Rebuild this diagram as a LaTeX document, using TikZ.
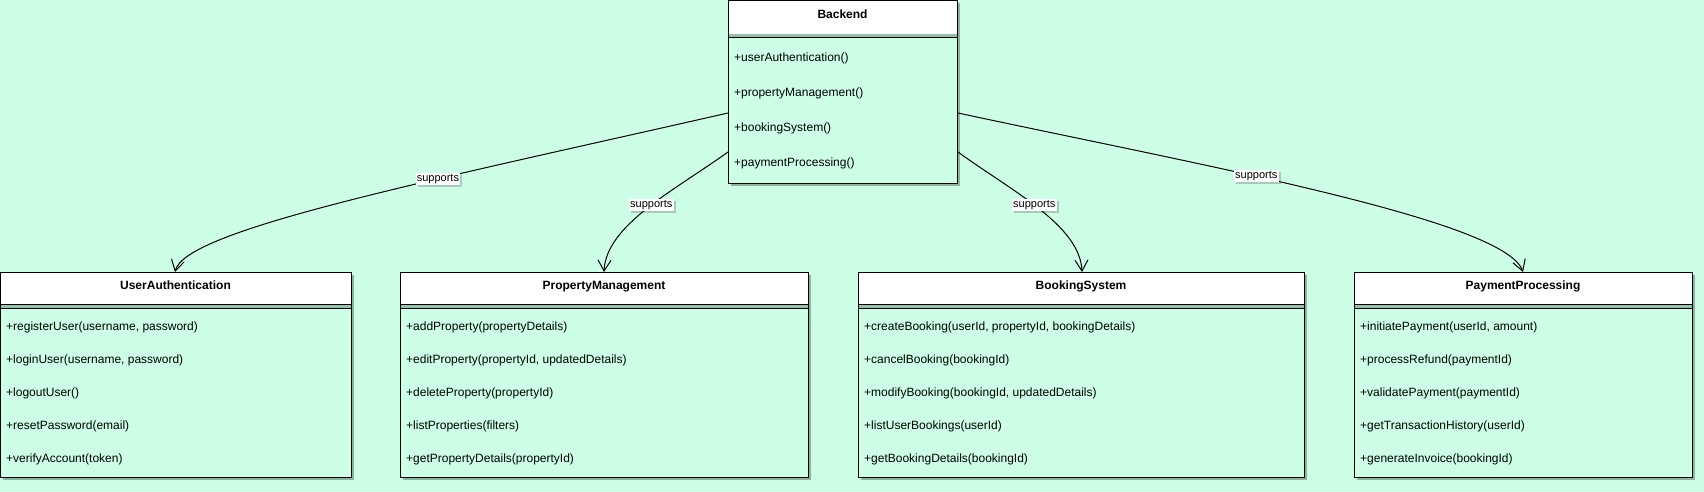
\documentclass[tikz,border=0pt]{standalone}
\usepackage{fontspec}
\setmainfont{Liberation Sans}
\usetikzlibrary{arrows.meta,shadows,calc}
\definecolor{bg}{RGB}{204,255,230}
\definecolor{gapc}{RGB}{150,192,176}
\tikzset{
  cls/.style={draw=black, line width=1pt, fill=bg, rectangle, inner sep=0pt, anchor=north west,
    drop shadow={shadow xshift=2.5pt, shadow yshift=-2.5pt, opacity=0.3, fill=black}},
  hdr/.style={draw=black, line width=1pt, fill=white, rectangle, inner sep=0pt, anchor=north west},
  ttl/.style={inner sep=0pt, anchor=base, font=\fontsize{12}{14}\selectfont\bfseries},
  item/.style={anchor=base west, inner sep=0pt, font=\fontsize{12}{14}\selectfont},
  rel/.style={line width=1pt, -{Straight Barb[length=11pt,width=13pt,line width=1pt]}},
  lbl/.style={fill=white, inner sep=1.3pt, font=\fontsize{11}{12}\selectfont,
    drop shadow={shadow xshift=2pt, shadow yshift=-2pt, opacity=0.2, fill=black}},
}
\begin{document}
\begin{tikzpicture}[x=1pt,y=-1pt]
\fill[bg] (0,0) rectangle (1704,492);
\useasboundingbox (0,0) rectangle (1704,492);

% Backend
\node[cls, minimum width=229pt, minimum height=183pt] (backend) at (728,0) {};
\node[hdr, minimum width=229pt, minimum height=34pt] (backendh) at (728,0) {};
\fill[gapc] (728.5,34.5) rectangle (956.5,38);
\draw[line width=1pt] (728,38) -- (957,38);
\node[ttl] (backendt) at (842.5,18.3) {Backend};
\foreach \t [count=\i] in {{+userAuthentication()},{+propertyManagement()},{+bookingSystem()},{+paymentProcessing()}}
  \node[item] (be\i) at (734,26.3+35*\i) {\t};

% UserAuthentication
\node[cls, minimum width=351pt, minimum height=205pt] (ua) at (0,272) {};
\node[hdr, minimum width=351pt, minimum height=32pt] (uah) at (0,272) {};
\fill[gapc] (0.5,304.5) rectangle (350.5,308);
\draw[line width=1pt] (0,308) -- (351,308);
\node[ttl] (uat) at (175.5,289.3) {UserAuthentication};
\foreach \t [count=\i] in {{+registerUser(username, password)},{+loginUser(username, password)},{+logoutUser()},{+resetPassword(email)},{+verifyAccount(token)}}
  \node[item] (ua\i) at (6,297.3+33*\i) {\t};

% PropertyManagement
\node[cls, minimum width=408pt, minimum height=205pt] (pm) at (400,272) {};
\node[hdr, minimum width=408pt, minimum height=32pt] (pmh) at (400,272) {};
\fill[gapc] (400.5,304.5) rectangle (807.5,308);
\draw[line width=1pt] (400,308) -- (808,308);
\node[ttl] (pmt) at (604,289.3) {PropertyManagement};
\foreach \t [count=\i] in {{+addProperty(propertyDetails)},{+editProperty(propertyId, updatedDetails)},{+deleteProperty(propertyId)},{+listProperties(filters)},{+getPropertyDetails(propertyId)}}
  \node[item] (pm\i) at (406,297.3+33*\i) {\t};

% BookingSystem
\node[cls, minimum width=446pt, minimum height=205pt] (bs) at (858,272) {};
\node[hdr, minimum width=446pt, minimum height=32pt] (bsh) at (858,272) {};
\fill[gapc] (858.5,304.5) rectangle (1303.5,308);
\draw[line width=1pt] (858,308) -- (1304,308);
\node[ttl] (bst) at (1081,289.3) {BookingSystem};
\foreach \t [count=\i] in {{+createBooking(userId, propertyId, bookingDetails)},{+cancelBooking(bookingId)},{+modifyBooking(bookingId, updatedDetails)},{+listUserBookings(userId)},{+getBookingDetails(bookingId)}}
  \node[item] (bs\i) at (864,297.3+33*\i) {\t};

% PaymentProcessing
\node[cls, minimum width=338pt, minimum height=205pt] (pp) at (1354,272) {};
\node[hdr, minimum width=338pt, minimum height=32pt] (pph) at (1354,272) {};
\fill[gapc] (1354.5,304.5) rectangle (1691.5,308);
\draw[line width=1pt] (1354,308) -- (1692,308);
\node[ttl] (ppt) at (1523,289.3) {PaymentProcessing};
\foreach \t [count=\i] in {{+initiatePayment(userId, amount)},{+processRefund(paymentId)},{+validatePayment(paymentId)},{+getTransactionHistory(userId)},{+generateInvoice(bookingId)}}
  \node[item] (pp\i) at (1360,297.3+33*\i) {\t};

% Relations
\draw[rel] ($(backend.north west)+(0,113)$) .. controls (420,183) and (185,230) .. ($(ua.north west)+(175,0)$)
  node[lbl, pos=0.35] (l1) {supports};
\draw[rel] ($(backend.north west)+(0,152)$) .. controls (675,190) and (606,225) .. ($(pm.north west)+(204,0)$)
  node[lbl, pos=0.47] (l2) {supports};
\draw[rel] ($(backend.north east)+(0,152)$) .. controls (1010,190) and (1080,225) .. ($(bs.north west)+(224,0)$)
  node[lbl, pos=0.47] (l3) {supports};
\draw[rel] ($(backend.north east)+(0,113)$) .. controls (1200,165) and (1505,220) .. ($(pp.north west)+(169,0)$)
  node[lbl, pos=0.4] (l4) {supports};
\end{tikzpicture}
\end{document}
